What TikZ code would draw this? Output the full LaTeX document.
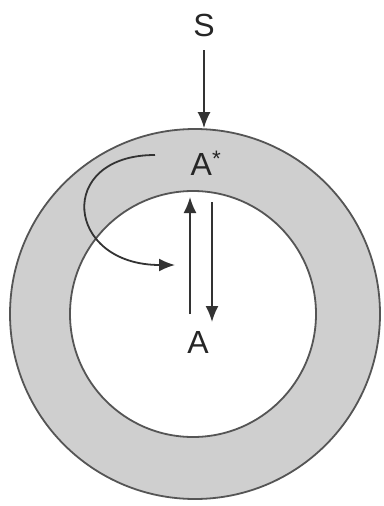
\documentclass[tikz,border=0pt]{standalone}
\usepackage{fontspec}
\setmainfont{Liberation Sans}
\usetikzlibrary{arrows.meta}
\definecolor{ringgray}{HTML}{CFCFCF}
\definecolor{linegray}{HTML}{555555}
\tikzset{
	ring/.style={circle, draw=linegray, line width=1.8pt, inner sep=0pt},
	lbl/.style={font=\fontsize{32}{36}\selectfont, inner sep=0pt, text=black!85},
	arr/.style={line width=1.8pt, draw=black!80, -{Latex[length=16pt,width=13pt]}}
}
\begin{document}
\begin{tikzpicture}[x=1pt, y=-1pt]
	\useasboundingbox (0,0) rectangle (383,506);
	% Rings:
	\node[ring, fill=ringgray, minimum size=370pt] (outer) at (195,314) {};
	\node[ring, fill=white, minimum size=246pt] (inner) at (193,314) {};
	% Labels:
	\node[lbl] (S) at (204,25) {S};
	\node[lbl] (Astar) at (206,163) {A\textsuperscript{*}};
	\node[lbl] (A) at (198,342) {A};
	% Arrows:
	\coordinate (stop) at (204,50);
	\coordinate (uphead) at (190,197);
	\coordinate (upfoot) at (190,314);
	\coordinate (downtop) at (212,202);
	\coordinate (downhead) at (212,322);
	\coordinate (curvestart) at (155,155);
	\coordinate (curvehead) at (175,265);
	\draw[arr] (stop) -- (stop |- outer.north);
	\draw[arr] (upfoot) -- (uphead);
	\draw[arr] (downtop) -- (downhead);
	\draw[arr] (curvestart) .. controls (55,155) and (65,265) .. (curvehead);
\end{tikzpicture}
\end{document}
